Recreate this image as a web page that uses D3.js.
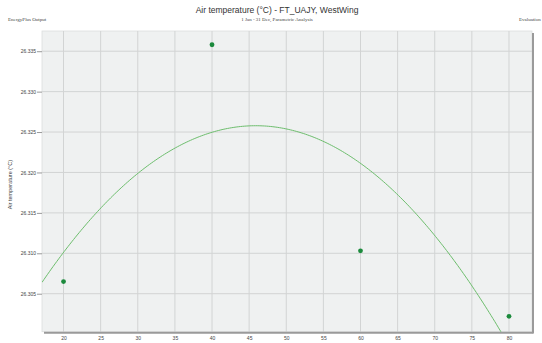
<!DOCTYPE html>
<html>
<head>
<meta charset="utf-8">
<script src="https://cdn.jsdelivr.net/npm/d3@7"></script>
<style>
  body { margin: 0; background: #fff; }
  svg { display: block; }
</style>
</head>
<body>
<div id="chart"></div>
<script>
// Parametric analysis results
const params = [20, 40, 60, 80];
const airTemp = [26.3065, 26.3358, 26.3103, 26.3022];
const xTicks = [20, 25, 30, 35, 40, 45, 50, 55, 60, 65, 70, 75, 80];
const yTicks = [26.305, 26.310, 26.315, 26.320, 26.325, 26.330, 26.335];

const W = 542, H = 343;
const margin = {top: 31, right: 10, bottom: 11.3, left: 42};
const width = W - margin.left - margin.right;
const height = H - margin.top - margin.bottom;

const svg = d3.select("#chart").append("svg")
  .attr("width", W)
  .attr("height", H);

// Titles
svg.append("text")
  .attr("x", 277).attr("y", 13)
  .attr("text-anchor", "middle")
  .style("font", "8.5px 'Liberation Sans', Arial, sans-serif")
  .attr("fill", "#333")
  .text("Air temperature (°C) - FT_UAJY, WestWing");
svg.append("text")
  .attr("x", 277).attr("y", 21)
  .attr("text-anchor", "middle")
  .style("font", "5px 'Liberation Serif', serif")
  .attr("fill", "#444")
  .text("1 Jan - 31 Dec, Parametric Analysis");
svg.append("text")
  .attr("x", 8).attr("y", 21)
  .style("font", "5px 'Liberation Serif', serif")
  .attr("fill", "#444")
  .text("EnergyPlus Output");
svg.append("text")
  .attr("x", 519).attr("y", 21)
  .style("font", "5px 'Liberation Serif', serif")
  .attr("fill", "#444")
  .text("Evaluation");

const g = svg.append("g")
  .attr("transform", `translate(${margin.left},${margin.top})`);

// Scales
const x = d3.scaleLinear().domain([17.1, 83.1]).range([0, width]);
const y = d3.scaleLinear().domain([26.3003, 26.3375]).range([height, 0]);

// Plot background
g.append("rect")
  .attr("width", width).attr("height", height)
  .attr("fill", "#eff1f1")
  .attr("stroke", "#dcdede").attr("stroke-width", 0.8);

// Grid
g.append("g")
  .selectAll("line")
  .data(xTicks)
  .join("line")
  .attr("x1", d => x(d)).attr("x2", d => x(d))
  .attr("y1", 0).attr("y2", height)
  .attr("stroke", "#d2d4d4").attr("stroke-width", 1);
g.append("g")
  .selectAll("line")
  .data(yTicks)
  .join("line")
  .attr("x1", 0).attr("x2", width)
  .attr("y1", d => y(d)).attr("y2", d => y(d))
  .attr("stroke", "#d2d4d4").attr("stroke-width", 1);

// Shadow edges (bottom and right)
g.append("line")
  .attr("x1", 2).attr("x2", width + 1.5)
  .attr("y1", height + 1).attr("y2", height + 1)
  .attr("stroke", "#9a9a9a").attr("stroke-width", 2);
g.append("line")
  .attr("x1", width + 1).attr("x2", width + 1)
  .attr("y1", 2).attr("y2", height + 1.5)
  .attr("stroke", "#9a9a9a").attr("stroke-width", 2);

// Axes
const xAxis = g.append("g")
  .attr("transform", `translate(0,${height + 2})`)
  .call(d3.axisBottom(x).tickValues(xTicks).tickSize(0).tickPadding(3).tickFormat(d3.format("d")));
const yAxis = g.append("g")
  .call(d3.axisLeft(y).tickValues(yTicks).tickSize(5).tickPadding(1).tickFormat(d3.format(".3f")));
[xAxis, yAxis].forEach(a => {
  a.select(".domain").remove();
  a.selectAll("text")
    .style("font", "5px 'Liberation Sans', Arial, sans-serif")
    .attr("fill", "#444");
  a.selectAll(".tick line").attr("stroke", "#999");
});

// Y axis label
g.append("text")
  .attr("transform", "rotate(-90)")
  .attr("x", -(y(26.3185)))
  .attr("y", -30)
  .attr("text-anchor", "middle")
  .style("font", "5.5px 'Liberation Sans', Arial, sans-serif")
  .attr("fill", "#444")
  .text("Air temperature (°C)");

// Quadratic least-squares trend through the points
function quadFit(xs, ys) {
  const S = k => d3.sum(xs, v => Math.pow(v, k));
  const T = k => d3.sum(xs.map((v, i) => Math.pow(v, k) * ys[i]));
  const A = [[S(0), S(1), S(2)], [S(1), S(2), S(3)], [S(2), S(3), S(4)]];
  const b = [T(0), T(1), T(2)];
  // Gaussian elimination
  for (let i = 0; i < 3; i++) {
    for (let j = i + 1; j < 3; j++) {
      const f = A[j][i] / A[i][i];
      for (let k = i; k < 3; k++) A[j][k] -= f * A[i][k];
      b[j] -= f * b[i];
    }
  }
  const c = [0, 0, 0];
  for (let i = 2; i >= 0; i--) {
    let s = b[i];
    for (let k = i + 1; k < 3; k++) s -= A[i][k] * c[k];
    c[i] = s / A[i][i];
  }
  return v => c[0] + c[1] * v + c[2] * v * v;
}
const xm = d3.mean(params);
const fit = quadFit(params.map(v => v - xm), airTemp.map(v => v - 26.3));
const trend = d3.range(17.1, 83.1, 0.25).map(v => [v, fit(v - xm) + 26.3]);

g.append("clipPath").attr("id", "clip")
  .append("rect").attr("width", width).attr("height", height);

g.append("path")
  .datum(trend)
  .attr("clip-path", "url(#clip)")
  .attr("fill", "none")
  .attr("stroke", "#6dbd6d")
  .attr("stroke-width", 1)
  .attr("d", d3.line().x(d => x(d[0])).y(d => y(d[1])));

// Points
g.append("g")
  .selectAll("circle")
  .data(params)
  .join("circle")
  .attr("cx", d => x(d))
  .attr("cy", (d, i) => y(airTemp[i]))
  .attr("r", 2.4)
  .attr("fill", "#1b8a3c");
</script>
</body>
</html>
